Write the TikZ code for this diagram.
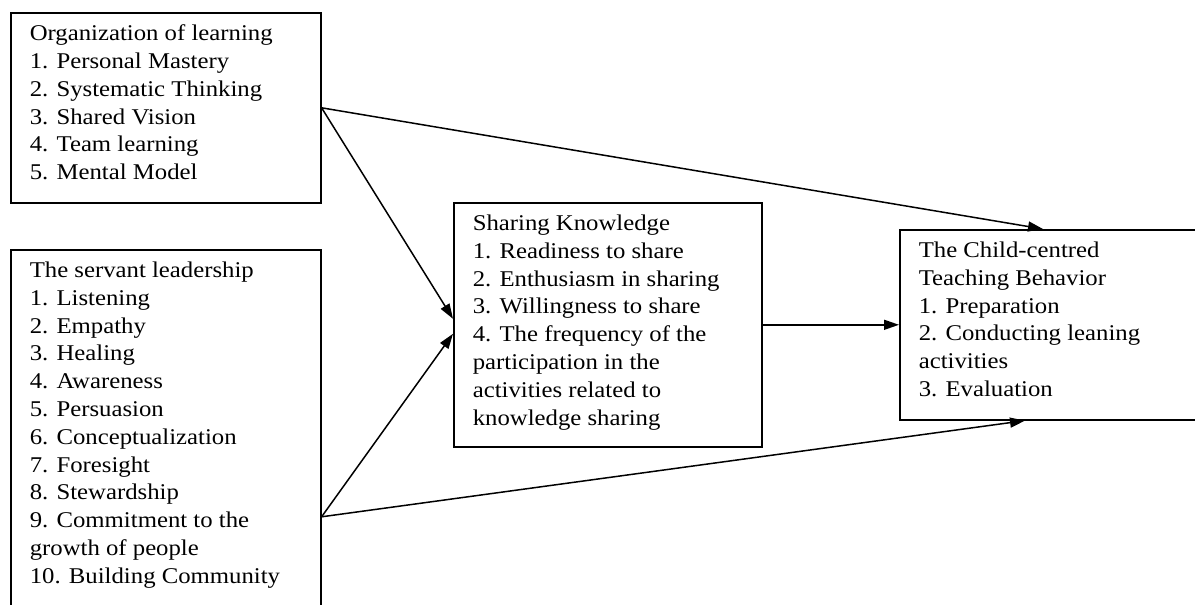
\documentclass[tikz,border=0pt]{standalone}
\usepackage{fontspec}
\setmainfont{Liberation Serif}[FakeStretch=1.1]
\usetikzlibrary{arrows.meta}

\newcommand{\itemlist}[3]{\begin{minipage}[c][#2][t]{#1}\raggedright #3\end{minipage}}

\begin{document}
\begin{tikzpicture}[x=1pt,y=-1pt,
    factor/.style={draw,line width=1.6pt,anchor=north west,inner xsep=19pt,inner ysep=12pt,
      font=\fontsize{22.5}{27.8}\selectfont},
    link/.style={line width=1.5pt,-{Triangle[length=15pt,width=10pt]}}]
        \useasboundingbox (0,0) rectangle (1195,605);

        \node[factor] (org) at (10,12) {\itemlist{272pt}{166pt}{Organization of learning\\
          1. Personal Mastery\\ 2. Systematic Thinking\\ 3. Shared Vision\\
          4. Team learning\\ 5. Mental Model}};

        \node[factor] (serv) at (10,249) {\itemlist{272pt}{346pt}{The servant leadership\\
          1. Listening\\ 2. Empathy\\ 3. Healing\\ 4. Awareness\\ 5. Persuasion\\
          6. Conceptualization\\ 7. Foresight\\ 8. Stewardship\\
          9. Commitment to the\\ growth of people\\ 10. Building Community}};

        \node[factor] (know) at (453,202) {\itemlist{270pt}{220pt}{Sharing Knowledge\\
          1. Readiness to share\\ 2. Enthusiasm in sharing\\ 3. Willingness to share\\
          4. The frequency of the\\ participation in the\\ activities related to\\
          knowledge sharing}};

        \node[factor] (child) at (899,229) {\itemlist{273pt}{166pt}{The Child-centred\\
          Teaching Behavior\\ 1. Preparation\\ 2. Conducting leaning\\ activities\\
          3. Evaluation}};

        % paths into sharing knowledge
        \draw[link] (org.east) -- ([yshift=6pt]know.west);
        \draw[link] ([yshift=-82pt]serv.east) -- ([yshift=-9pt]know.west);

        % direct paths
        \draw[link] (org.east) -- ([xshift=144pt]child.north west);
        \draw[link] ([yshift=-82pt]serv.east) -- ([xshift=126pt]child.south west);

        \draw[link] (know.east) -- (know.east -| child.west);

    \end{tikzpicture}
\end{document}
